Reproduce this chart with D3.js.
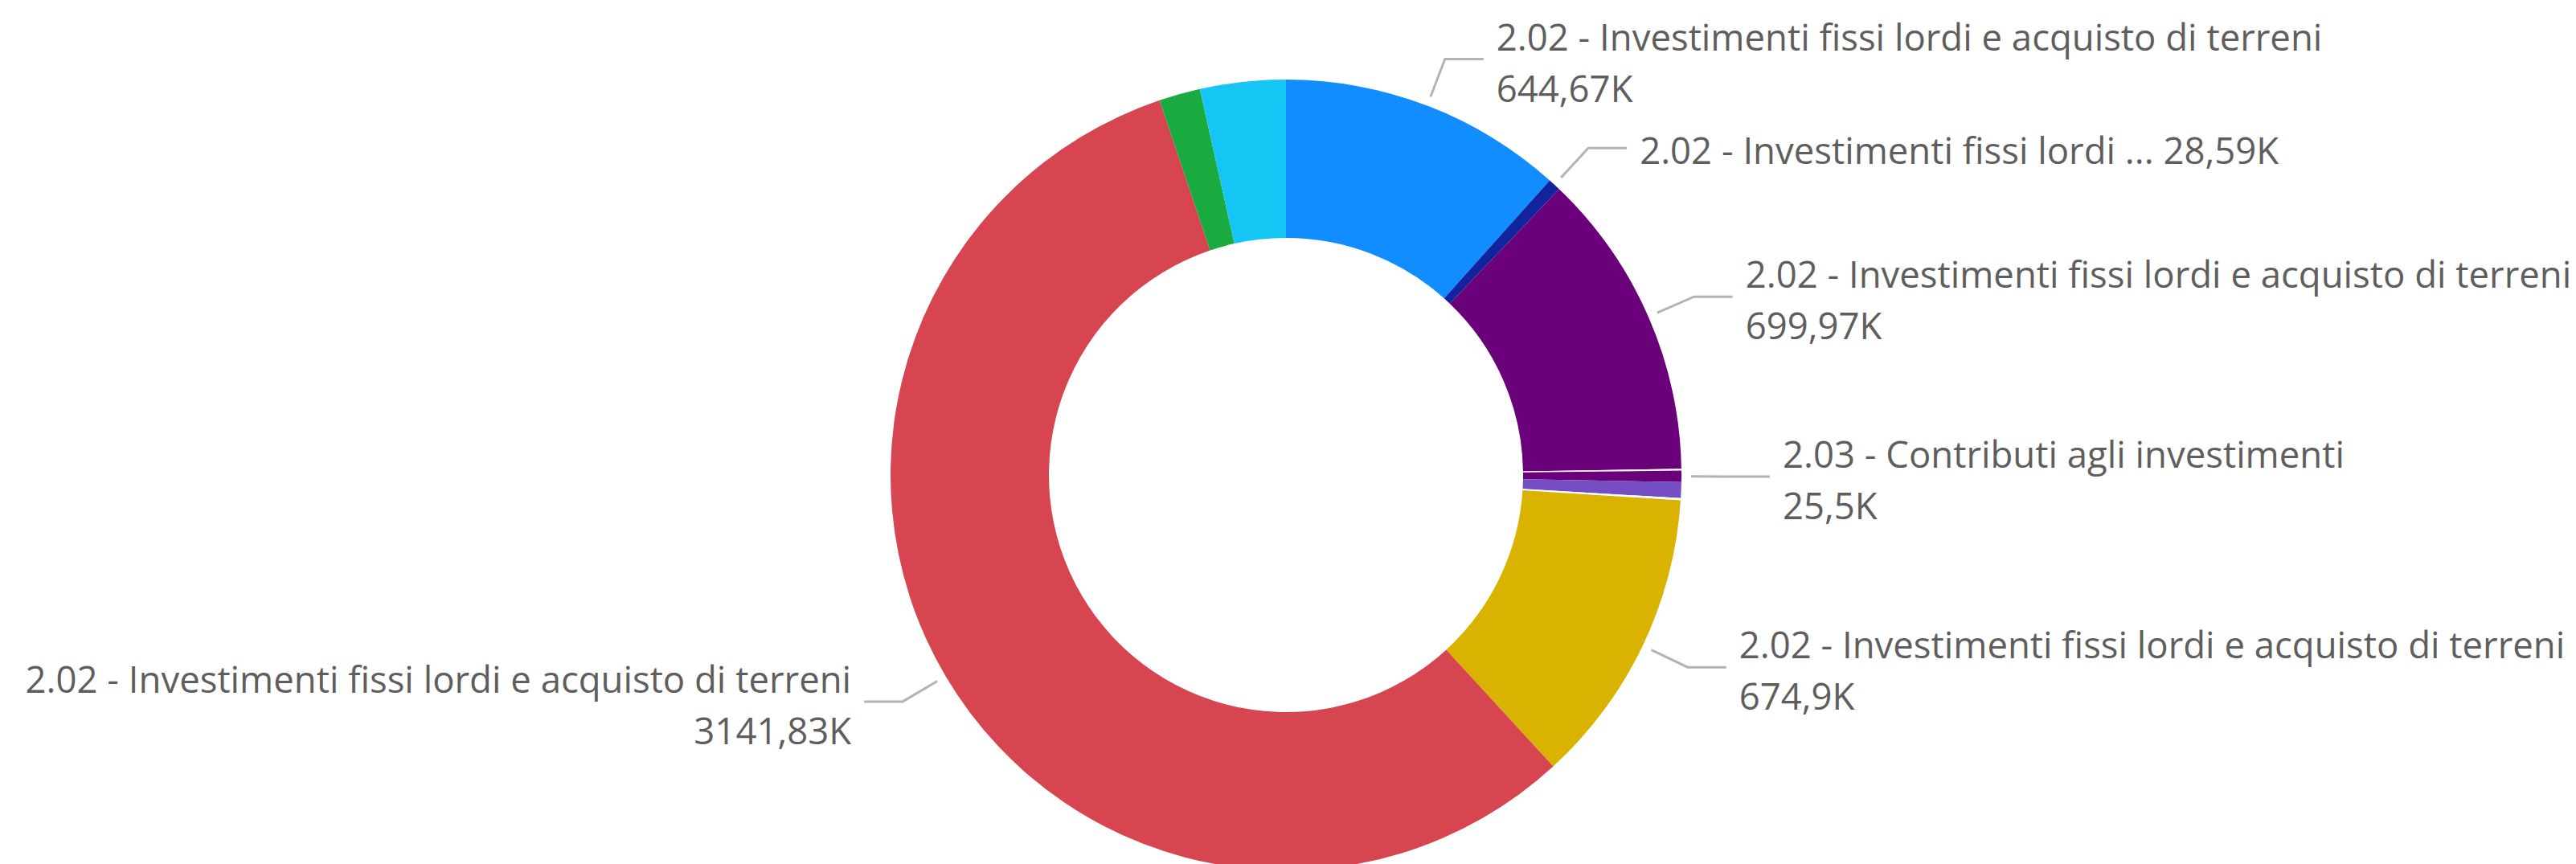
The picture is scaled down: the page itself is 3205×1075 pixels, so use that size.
<!DOCTYPE html>
<html>
<head>
<meta charset="utf-8">
<script src="https://cdn.jsdelivr.net/npm/d3@7"></script>
<style>
  html, body { margin: 0; padding: 0; background: #fff; overflow: hidden; }
</style>
</head>
<body>
<div id="chart"></div>
<script>
// slices in the order they are drawn, clockwise from 12 o'clock (values in thousands)
var categories = [
    "2.02 - Investimenti fissi lordi e acquisto di terreni",
    "2.02 - Investimenti fissi lordi e acquisto di terreni",
    "2.02 - Investimenti fissi lordi e acquisto di terreni",
    "(vuoto)",
    "2.03 - Contributi agli investimenti",
    "Altre voci",
    "(vuoto)",
    "2.02 - Investimenti fissi lordi e acquisto di terreni",
    "2.02 - Investimenti fissi lordi e acquisto di terreni",
    "Altre voci",
    "Altre voci"
];
var values = [644.67, 28.59, 699.97, 4, 25.5, 36, 5, 674.9, 3141.83, 93.4, 194];
var colors = ["#118DFF", "#12239E", "#6B007B", "#FFFFFF", "#6B007B", "#744EC2",
              "#FFFFFF", "#D9B300", "#D64550", "#1AAB40", "#15C6F4"];
// how each slice is labelled: two lines, one truncated line, or nothing
var labelModes = ["two", "one", "two", "none", "two", "none", "none", "two", "two", "none", "none"];
var shortNames = ["", "2.02 - Investimenti fissi lordi ...", "", "", "", "", "", "", "", "", ""];

var w = 3205;
var h = 1075;
var cx = 1600, cy = 591;
var outerR = 492, innerR = 295;

var fmt = d3.formatLocale({decimal: ",", thousands: ".", grouping: [3], currency: ["", "€"]})
    .format(".2~f");
function valueText(v) { return fmt(v) + "K"; }

var slices = categories.map(function(c, i) {
    return {name: c, value: values[i], color: colors[i], mode: labelModes[i], short: shortNames[i]};
});

var pie = d3.pie().sort(null).value(function(d) { return d.value; });
var arcs = pie(slices);

var arc = d3.arc().innerRadius(innerR).outerRadius(outerR);
var arcStart = d3.arc().innerRadius(outerR + 12).outerRadius(outerR + 12);
var arcElbow = d3.arc().innerRadius(outerR + 62).outerRadius(outerR + 62);

var svg = d3.select("#chart")
    .append("svg")
    .attr("width", w)
    .attr("height", h);

var g = svg.append("g")
    .attr("transform", "translate(" + cx + "," + cy + ")");

g.selectAll("path.slice")
    .data(arcs)
    .enter()
    .append("path")
    .attr("class", "slice")
    .attr("d", arc)
    .attr("fill", function(d) { return d.data.color; });

// leader lines + labels
var labelled = arcs.filter(function(d) { return d.data.mode != "none"; });

var labels = g.selectAll("g.label")
    .data(labelled)
    .enter()
    .append("g")
    .attr("class", "label");

labels.append("polyline")
    .attr("fill", "none")
    .attr("stroke", "#B3B3B3")
    .attr("stroke-width", 3)
    .attr("points", function(d) {
        var p1 = arcStart.centroid(d);
        var p2 = arcElbow.centroid(d);
        var mid = (d.startAngle + d.endAngle) / 2;
        var right = mid < Math.PI;
        var p3 = [p2[0] + (right ? 48 : -48), p2[1]];
        return [p1, p2, p3].map(function(p) { return p.join(","); }).join(" ");
    });

var txt = labels.append("text")
    .style("font-family", "'Segoe UI', 'Open Sans', sans-serif")
    .style("font-size", "45.5px")
    .style("fill", "#605E5C")
    .attr("text-anchor", function(d) {
        return (d.startAngle + d.endAngle) / 2 < Math.PI ? "start" : "end";
    })
    .attr("transform", function(d) {
        var p2 = arcElbow.centroid(d);
        var right = (d.startAngle + d.endAngle) / 2 < Math.PI;
        var x = p2[0] + (right ? 64 : -64);
        return "translate(" + x + "," + p2[1] + ")";
    });

txt.each(function(d) {
    var t = d3.select(this);
    if (d.data.mode == "one") {
        t.append("tspan").attr("x", 0).attr("y", 20)
            .text(d.data.short + " " + valueText(d.data.value));
    } else {
        t.append("tspan").attr("x", 0).attr("y", -11).text(d.data.name);
        t.append("tspan").attr("x", 0).attr("y", 53).text(valueText(d.data.value));
    }
});
</script>
</body>
</html>
